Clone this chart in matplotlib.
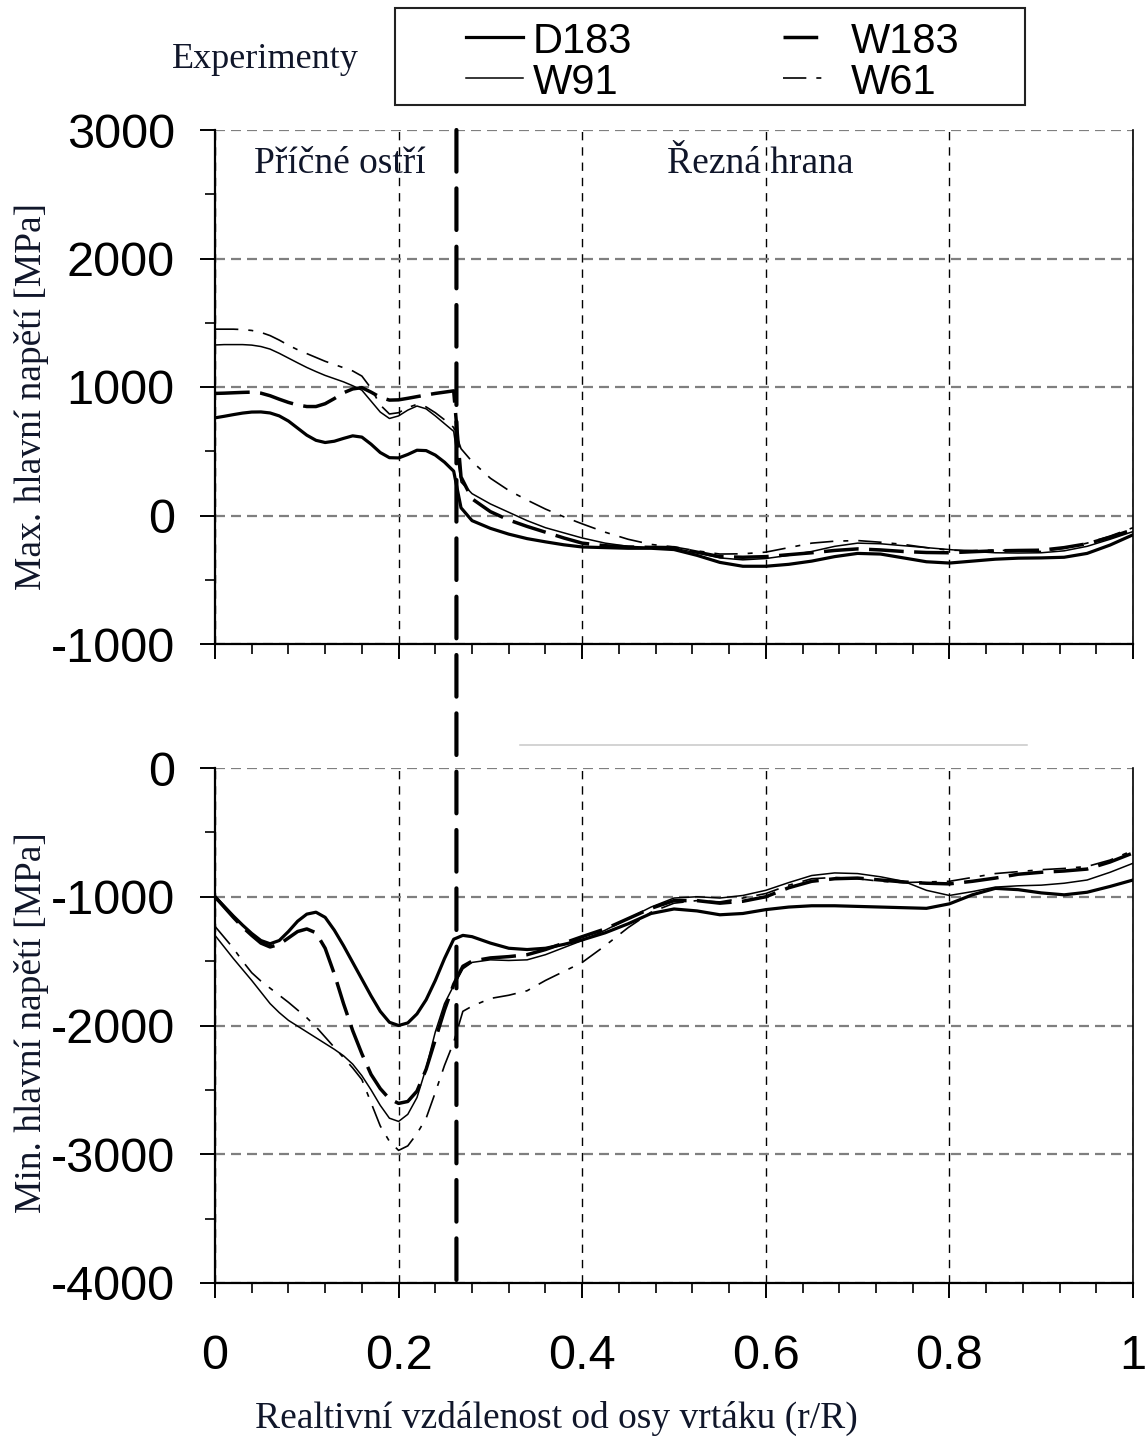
import matplotlib
matplotlib.use("Agg")
from matplotlib import pyplot as plt
from matplotlib.lines import Line2D
from matplotlib.patches import Rectangle, ConnectionPatch
from matplotlib.ticker import MultipleLocator

#%% Data

# Max. principal stress along the drill lip [MPa]
x_max = [0.00, 0.01, 0.02, 0.03, 0.04, 0.05, 0.06, 0.07, 0.08, 0.09,
         0.10, 0.11, 0.12, 0.13, 0.14, 0.15, 0.16, 0.17, 0.18, 0.19,
         0.20, 0.21, 0.22, 0.23, 0.24, 0.25, 0.26,
         0.268, 0.28, 0.30, 0.32, 0.34, 0.36, 0.38,
         0.400, 0.425, 0.450, 0.475, 0.500, 0.525, 0.550, 0.575, 0.600,
         0.625, 0.650, 0.675, 0.700, 0.725, 0.750, 0.775, 0.800, 0.825,
         0.850, 0.875, 0.900, 0.925, 0.950, 0.975, 1.000]
max_D183 = [760, 772, 785, 797, 805, 806, 798, 775, 735, 680,
            625, 585, 568, 578, 600, 620, 610, 555, 490, 450,
            448, 475, 508, 505, 470, 415, 345,
            60, -40, -100, -145, -180, -205, -228,
            -245, -250, -255, -255, -265, -310, -365, -395, -395,
            -380, -355, -320, -295, -300, -330, -360, -370, -355,
            -340, -332, -330, -325, -295, -230, -150]
max_W91 = [1327, 1330, 1330, 1330, 1326, 1315, 1295, 1262, 1225, 1188,
           1152, 1120, 1090, 1065, 1040, 1010, 975, 890, 805, 755,
           775, 820, 852, 830, 775, 715, 655,
           260, 170, 90, 25, -40, -95, -135,
           -175, -215, -240, -248, -255, -290, -330, -345, -335,
           -310, -280, -240, -215, -220, -235, -250, -265, -280,
           -290, -292, -290, -275, -240, -185, -125]
max_W183 = [950, 952, 955, 958, 960, 952, 932, 905, 880, 860,
            848, 848, 870, 910, 955, 985, 995, 960, 920, 898,
            900, 912, 925, 938, 950, 960, 970,
            300, 130, 30, -35, -85, -130, -175,
            -215, -235, -245, -248, -250, -285, -320, -325, -320,
            -305, -290, -272, -260, -268, -280, -288, -290, -282,
            -275, -272, -270, -250, -220, -170, -110]
max_W61 = [1450, 1450, 1450, 1447, 1440, 1425, 1400, 1365, 1325, 1290,
           1260, 1230, 1200, 1175, 1150, 1125, 1085, 990, 860, 790,
           800, 840, 865, 845, 800, 745, 685,
           520, 420, 290, 195, 120, 50, -10,
           -65, -130, -185, -225, -245, -275, -300, -298, -285,
           -250, -215, -200, -195, -208, -225, -250, -270, -272,
           -270, -275, -280, -255, -215, -160, -95]

# Min. principal stress along the drill lip [MPa]
x_min = [0.00, 0.01, 0.02, 0.03, 0.04, 0.05, 0.06, 0.07, 0.08, 0.09,
         0.10, 0.11, 0.12, 0.13, 0.14, 0.15, 0.16, 0.17, 0.18, 0.19,
         0.20, 0.21, 0.22, 0.23, 0.24, 0.25, 0.26,
         0.27, 0.28, 0.30, 0.32, 0.34, 0.36, 0.38,
         0.400, 0.425, 0.450, 0.475, 0.500, 0.525, 0.550, 0.575, 0.600,
         0.625, 0.650, 0.675, 0.700, 0.725, 0.750, 0.775, 0.800, 0.825,
         0.850, 0.875, 0.900, 0.925, 0.950, 0.975, 1.000]
min_D183 = [-1000, -1075, -1150, -1220, -1285, -1340, -1365, -1340, -1270, -1190,
            -1135, -1120, -1160, -1260, -1380, -1510, -1640, -1770, -1890, -1975,
            -2000, -1980, -1910, -1800, -1650, -1480, -1330,
            -1300, -1310, -1360, -1400, -1410, -1400, -1370,
            -1335, -1280, -1210, -1130, -1095, -1110, -1140, -1130, -1100,
            -1080, -1070, -1070, -1075, -1080, -1085, -1090, -1055, -985,
            -935, -945, -970, -985, -965, -920, -870]
min_W91 = [-1300, -1390, -1480, -1565, -1650, -1740, -1830, -1900, -1960, -2005,
           -2050, -2095, -2140, -2185, -2235, -2300, -2390, -2500, -2620, -2720,
           -2745, -2690, -2560, -2330, -2050, -1830, -1690,
           -1560, -1510, -1490, -1495, -1490, -1450, -1395,
           -1340, -1260, -1170, -1080, -1010, -1000, -1010, -990, -950,
           -890, -835, -815, -820, -845, -880, -950, -990, -960,
           -925, -915, -910, -895, -870, -810, -740]
min_W183 = [-1000, -1080, -1160, -1235, -1300, -1360, -1390, -1370, -1320, -1270,
            -1250, -1280, -1400, -1600, -1830, -2040, -2220, -2380, -2490, -2570,
            -2605, -2590, -2510, -2340, -2110, -1880, -1680,
            -1540, -1500, -1475, -1465, -1450, -1410, -1360,
            -1310, -1250, -1170, -1090, -1030, -1030, -1050, -1035, -1000,
            -930, -880, -860, -855, -870, -885, -895, -900, -880,
            -855, -825, -810, -800, -785, -730, -660]
min_W61 = [-1230, -1315, -1400, -1500, -1590, -1655, -1710, -1765, -1820, -1880,
           -1940, -2010, -2090, -2170, -2250, -2330, -2420, -2600, -2780, -2900,
           -2970, -2935, -2840, -2720, -2520, -2310, -2130,
           -1890, -1850, -1790, -1765, -1730, -1650, -1580,
           -1510, -1380, -1240, -1120, -1050, -1030, -1040, -1010, -975,
           -910, -860, -850, -860, -880, -890, -885, -880, -850,
           -820, -805, -790, -780, -765, -715, -640]

series = ["D183", "W91", "W183", "W61"]
edge_x = 0.263   # chisel edge / cutting edge boundary

#%% Styles

plt.rcParams['font.family'] = ['Liberation Sans', 'DejaVu Sans']
plt.rcParams['axes.unicode_minus'] = False
serif = ['Liberation Serif', 'DejaVu Serif']
txt_col = '#10162a'

styles = {
    "D183": dict(color='k', lw=2.3, ls='-'),
    "W91": dict(color='k', lw=1.1, ls='-'),
    "W183": dict(color='k', lw=2.5, ls=(0, (10, 3))),
    "W61": dict(color='k', lw=1.2, ls=(0, (14, 6, 3, 6))),
}

W, H = 1145, 1439
fig = plt.figure(figsize=(W / 100, H / 100), dpi=100)

def fx(px):
    return px / W

def fy(py):
    return 1 - py / H

ax1 = fig.add_axes([fx(215), fy(644), fx(1133) - fx(215), fy(130) - fy(644)])
ax2 = fig.add_axes([fx(215), fy(1283), fx(1133) - fx(215), fy(768) - fy(1283)])

#%% Curves

for name, y in zip(series, [max_D183, max_W91, max_W183, max_W61]):
    ax1.plot(x_max, y, solid_joinstyle='round', **styles[name])
for name, y in zip(series, [min_D183, min_W91, min_W183, min_W61]):
    ax2.plot(x_min, y, solid_joinstyle='round', **styles[name])

#%% Axes

for ax in (ax1, ax2):
    ax.set_xlim(0, 1)
    ax.xaxis.set_major_locator(MultipleLocator(0.2))
    ax.xaxis.set_minor_locator(MultipleLocator(0.04))
    ax.yaxis.set_major_locator(MultipleLocator(1000))
    ax.yaxis.set_minor_locator(MultipleLocator(500))
    ax.grid(axis='y', which='major', color='#7f7f7f', lw=1.6, ls=(0, (4.5, 2.7)))
    ax.grid(axis='x', which='major', color='k', lw=1.0, ls=(0, (6, 5)))
    ax.spines['top'].set_visible(False)
    for s in ('left', 'bottom'):
        ax.spines[s].set_linewidth(1.6)
    ax.spines['right'].set_linewidth(1.2)
    ax.tick_params(which='major', direction='out', length=11, width=1.4,
                   labelsize=35, top=False, right=False)
    ax.tick_params(which='minor', direction='out', length=7, width=1.2,
                   top=False, right=False)
    ax.tick_params(axis='y', which='major', pad=18)
    ax.tick_params(axis='x', which='major', pad=26)
    ax.xaxis.set_major_formatter(lambda v, p: f"{v:g}")

ax1.set_ylim(-1000, 3000)
ax2.set_ylim(-4000, 0)
ax1.tick_params(axis='x', labelbottom=False)

# boundary between chisel edge and cutting edge, through both panels
cp = ConnectionPatch(xyA=(edge_x, 3000), coordsA=ax1.transData,
                     xyB=(edge_x, -4000), coordsB=ax2.transData,
                     color='k', lw=3, ls=(0, (10, 4)), zorder=5)
fig.add_artist(cp)

ax2.plot([0.332, 0.885], [180, 180], color='#c8c8c8', lw=1.1, clip_on=False)

#%% Texts

ax1.text(0.136, 2665, "Příčné ostří", ha='center', va='baseline',
         family=serif, size=27, color=txt_col)
ax1.text(0.594, 2665, "Řezná hrana", ha='center', va='baseline',
         family=serif, size=27, color=txt_col)

fig.text(fx(32), fy(397), "Max. hlavní napětí [MPa]", rotation=90,
         ha='center', va='center', family=serif, size=27, color=txt_col)
fig.text(fx(32), fy(1023), "Min. hlavní napětí [MPa]", rotation=90,
         ha='center', va='center', family=serif, size=27, color=txt_col)
fig.text(fx(556), fy(1418), "Realtivní vzdálenost od osy vrtáku (r/R)",
         ha='center', va='center', family=serif, size=27, color=txt_col)
fig.text(fx(265), fy(60), "Experimenty", ha='center', va='center',
         family=serif, size=26, color=txt_col)

#%% Legend box

fig.add_artist(Rectangle((fx(395), fy(105)), fx(1025) - fx(395), fy(8) - fy(105),
                         transform=fig.transFigure, fill=False, ec='#222222', lw=1.5))
legend_pos = {"D183": (466, 523, 533, 37), "W91": (466, 523, 533, 78),
              "W183": (783, 820, 851, 37), "W61": (783, 831, 851, 78)}
for name in series:
    x0, x1, xt, yr = legend_pos[name]
    fig.add_artist(Line2D([fx(x0), fx(x1)], [fy(yr), fy(yr)],
                          transform=fig.transFigure, **styles[name]))
    fig.text(fx(xt), fy(yr + 16), name, ha='left', va='baseline', size=30)

fig.savefig("out.png", dpi=100)
